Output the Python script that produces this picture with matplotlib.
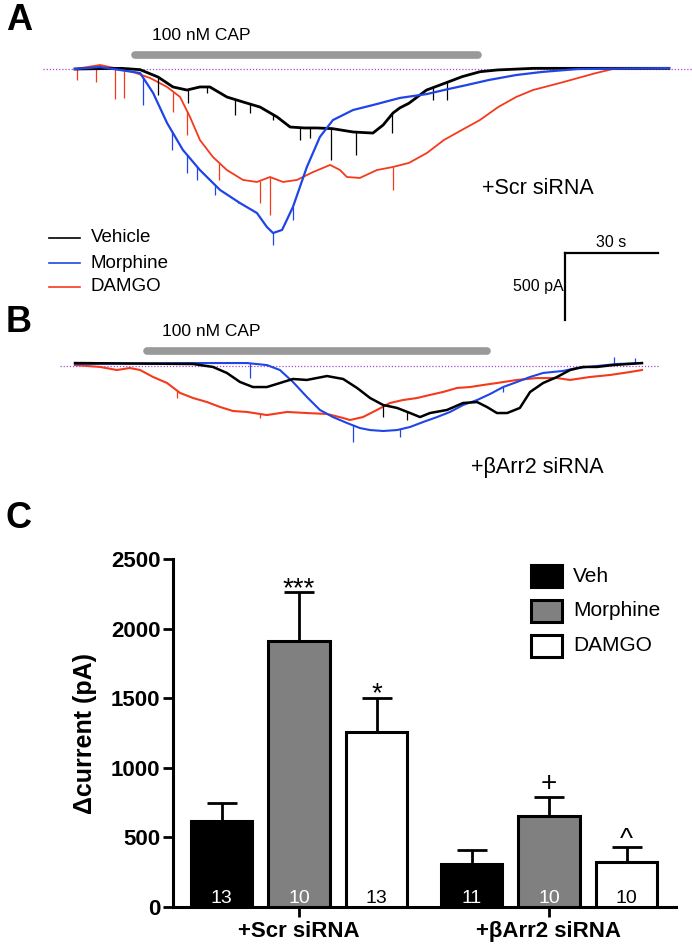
import numpy as np
import matplotlib.pyplot as plt
from matplotlib.lines import Line2D
from matplotlib.patches import Rectangle

plt.rcParams['font.family'] = ['Liberation Sans', 'DejaVu Sans']

W, H = 692, 950

# ---------------- panel A traces (+Scr siRNA): time (s), current (pA)
a_veh_t = [0, 15, 21, 26.8, 31.6, 36.1, 40.3, 43.5, 49.0, 54.2, 59.7, 65.2, 69.4, 74, 78.0,
           83, 89.7, 96.1, 99.4, 102.6, 104.8, 107.7, 113.4, 119.2, 124.9, 130.7, 136.4,
           147.9, 162.2, 191.6]
a_veh_i = [0, 5, -5, -60, -134, -157, -134, -134, -209, -246, -284, -358, -433, -440, -440,
           -445, -470, -478, -418, -328, -290, -256, -157, -107, -57, -20, -7, 5, 5, 5]
a_mor_t = [0, 8.1, 21.0, 25.2, 29.7, 34.8, 40.3, 46.8, 53.2, 58.7, 61.9, 63.9, 66.8, 70.3,
           74.8, 79.0, 83.2, 89.7, 96.1, 104.8, 113.5, 119.0, 126.5, 133.5, 142.3, 150.6,
           162.3, 191.6]
a_mor_i = [0, 15, -30, -179, -403, -604, -754, -903, -1000, -1075, -1179, -1224, -1201,
           -1030, -731, -507, -381, -306, -269, -216, -187, -157, -119, -82, -45, -22, 0, 7]
a_dam_t = [0, 8.1, 18.7, 24.2, 29.7, 33.9, 37.1, 40.3, 44.5, 49.0, 54.2, 58.7, 62.9, 67.1,
           71.6, 76.8, 82.3, 85.5, 87.7, 91.9, 97.4, 102.6, 107.7, 113.5, 119.0, 124.8,
           130.6, 136.5, 142.3, 147.7, 156.5, 162.3, 168.1, 173.5, 191.6]
a_dam_i = [0, 30, -22, -67, -134, -209, -358, -530, -657, -754, -828, -843, -806, -843,
           -828, -769, -716, -754, -806, -813, -754, -731, -701, -627, -530, -455, -381,
           -284, -209, -157, -104, -67, -30, 0, 7]

# downward spikes: time (s), tip current (pA)
a_veh_spk_t = [26.8, 36.5, 42.6, 51.6, 56.5, 63.9, 72.6, 75.8, 82.6, 90.6, 102.3, 115.5, 120.0]
a_veh_spk_i = [-194, -254, -179, -343, -328, -381, -530, -515, -679, -642, -478, -231, -231]
a_mor_spk_t = [21.9, 31.3, 36.1, 39.4, 45.2, 52.6, 63.9, 70.3]
a_mor_spk_i = [-269, -604, -776, -828, -940, -1000, -1313, -1127]
a_dam_spk_t = [0.6, 6.8, 12.9, 15.8, 31.6, 36.1, 46.5, 59.7, 62.9, 102.6]
a_dam_spk_i = [-82, -97, -224, -216, -321, -493, -828, -1000, -1090, -903]

# ---------------- panel B traces (+βArr2 siRNA)
b_veh_t = [0, 38.1, 44.5, 49.0, 53.2, 57.4, 61.9, 66.1, 70.3, 74.8, 81.3, 86.5, 91.0, 95.2,
           99.4, 103.9, 108.1, 111.3, 114.5, 120.0, 125.2, 129.7, 132.9, 136.1, 139.4,
           143.5, 146.8, 151.0, 155.5, 159.7, 163.9, 168.4, 173.5, 182.9]
b_veh_i = [22, 15, -7, -52, -119, -157, -157, -127, -97, -104, -75, -97, -164, -239, -291,
           -313, -351, -381, -351, -328, -276, -269, -306, -351, -351, -313, -194, -127,
           -82, -30, -7, -7, 7, 22]
b_mor_t = [0, 38.1, 49.0, 55.5, 61.9, 66.1, 70.3, 74.8, 79.0, 83.2, 87.7, 91.9, 95.2, 99.4,
           103.9, 108.1, 112.3, 116.8, 121.0, 125.2, 129.7, 133.9, 138.1, 142.6, 146.8,
           151.0, 157.4, 161.9, 168.4, 174.8, 182.9]
b_mor_i = [15, 22, 22, 22, 7, -30, -119, -231, -328, -381, -425, -463, -478, -485, -478,
           -455, -418, -381, -343, -291, -254, -209, -157, -119, -82, -52, -37, -15, 0, 15, 22]
b_dam_t = [0, 8.1, 13.5, 17.7, 21.0, 25.2, 29.7, 33.9, 38.1, 42.6, 46.8, 51.0, 55.5, 61.9,
           68.4, 74.8, 81.3, 86.5, 88.7, 92.9, 97.4, 101.6, 105.8, 110.3, 114.5, 118.7,
           123.2, 127.4, 131.6, 136.1, 142.6, 149.0, 155.5, 159.7, 166.1, 172.6, 179.0, 182.9]
b_dam_i = [7, -7, -30, -15, -30, -82, -127, -201, -239, -269, -306, -336, -343, -366, -343,
           -351, -358, -388, -403, -381, -328, -276, -254, -239, -216, -194, -164, -157,
           -142, -127, -104, -90, -90, -104, -82, -67, -45, -30]

b_veh_spk_t = [99.4, 107.1]
b_veh_spk_i = [-381, -403]
b_mor_spk_t = [56.5, 89.7, 104.8, 138.1, 174.0, 180.6]
b_mor_spk_i = [-90, -567, -530, -194, 67, 60]
b_dam_spk_t = [33.0, 59.7]
b_dam_spk_i = [-239, -388]

cap_a = [19.4, 130.0]
cap_b = [23.2, 132.9]

# ---------------- panel C
groups = ['+Scr siRNA', '+βArr2 siRNA']
treatments = ['Veh', 'Morphine', 'DAMGO']
scr_mean = [618, 1911, 1257]
scr_sem = [129, 352, 244]
arr_mean = [309, 654, 323]
arr_sem = [100, 136, 108]
scr_n = [13, 10, 13]
arr_n = [11, 10, 10]
scr_marks = ['', '***', '*']
arr_marks = ['', '+', '^']

# pixel helpers for layout
PX_S = 3.1      # px per second
PX_PA = 0.134   # px per pA
T0 = 75         # px where traces start


def fx(x):
    return x / W


def fy(y):
    return 1 - y / H


def add_ax(x0, y0, x1, y1):
    return fig.add_axes([fx(x0), fy(y1), (x1 - x0) / W, (y1 - y0) / H])


def t_of(x):
    return (x - T0) / PX_S


def i_of(y, base):
    return -(y - base) / PX_PA


fig = plt.figure(figsize=(W / 100, H / 100), dpi=100)

col_veh, col_mor, col_dam = 'black', '#1f45e6', '#f53a1c'


def draw_traces(ax, traces, cap, cap_i, dot_range):
    ax.hlines(0, dot_range[0], dot_range[1], colors='#a64ac9', linestyles=(0, (1, 1.5)), lw=0.9)
    ax.plot(cap, [cap_i, cap_i], color='#999999', lw=5.5, solid_capstyle='round')
    for t, i, st, si, c, lw in traces:
        ax.plot(t, i, color=c, lw=lw)
        ax.vlines(st, np.interp(st, t, i), si, colors=c, lw=0.9)
    ax.axis('off')


# ---- panel A
axA = add_ax(0, 0, W, 330)
axA.set_xlim(t_of(0), t_of(W))
axA.set_ylim(i_of(330, 69), i_of(0, 69))
draw_traces(axA, [
    (a_dam_t, a_dam_i, a_dam_spk_t, a_dam_spk_i, col_dam, 1.3),
    (a_veh_t, a_veh_i, a_veh_spk_t, a_veh_spk_i, col_veh, 2.0),
    (a_mor_t, a_mor_i, a_mor_spk_t, a_mor_spk_i, col_mor, 1.6),
], cap_a, i_of(55, 69), (t_of(43), t_of(W)))

# scale bar
sb_t, sb_i = t_of(565), i_of(253, 69)
axA.plot([sb_t, sb_t + 30], [sb_i, sb_i], color='black', lw=1.6)
axA.plot([sb_t, sb_t], [sb_i, sb_i - 500], color='black', lw=1.6)
axA.text(sb_t + 15, sb_i + 25, '30 s', ha='center', va='bottom', fontsize=11.5)
axA.text(sb_t - 0.3, sb_i - 250, '500 pA', ha='right', va='center', fontsize=11.5)

# ---- panel B
axB = add_ax(0, 330, W, 500)
axB.set_xlim(t_of(0), t_of(W))
axB.set_ylim(i_of(500, 366), i_of(330, 366))
draw_traces(axB, [
    (b_dam_t, b_dam_i, b_dam_spk_t, b_dam_spk_i, col_dam, 1.5),
    (b_mor_t, b_mor_i, b_mor_spk_t, b_mor_spk_i, col_mor, 1.5),
    (b_veh_t, b_veh_i, b_veh_spk_t, b_veh_spk_i, col_veh, 1.8),
], cap_b, i_of(351, 366), (t_of(60), t_of(660)))

# texts of A and B
fig.text(fx(6), fy(21), 'A', fontsize=26, fontweight='bold', va='center')
fig.text(fx(6), fy(322), 'B', fontsize=26, fontweight='bold', va='center')
fig.text(fx(6), fy(519), 'C', fontsize=26, fontweight='bold', va='center')
fig.text(fx(152), fy(35), '100 nM CAP', fontsize=12.5, va='center')
fig.text(fx(162), fy(331), '100 nM CAP', fontsize=12.5, va='center')
fig.text(fx(482), fy(188), '+Scr siRNA', fontsize=15.5, va='center')
fig.text(fx(471), fy(468), '+βArr2 siRNA', fontsize=15.5, va='center')

for yy, lab, c in [(238, 'Vehicle', col_veh), (263, 'Morphine', col_mor), (287, 'DAMGO', col_dam)]:
    fig.add_artist(Line2D([fx(49), fx(80)], [fy(yy), fy(yy)], color=c, lw=1.2))
    fig.text(fx(91), fy(yy), lab, fontsize=13.5, va='center')

# ---- panel C
axC = add_ax(173, 559, 676, 907)
unit = 77.5
x_scr = np.arange(3)
x_arr = np.arange(3) + (471.5 - 221.5) / unit
xs = np.concatenate([x_scr, x_arr])
means = scr_mean + arr_mean
sems = scr_sem + arr_sem
ns = scr_n + arr_n
marks = scr_marks + arr_marks
fills = ['black', '#808080', 'white'] * 2
ncols = ['white', 'white', 'black'] * 2

axC.errorbar(xs, means, yerr=[np.zeros(6), sems], fmt='none', ecolor='black',
             elinewidth=2, capsize=11, capthick=2, zorder=2)
axC.bar(xs, means, width=0.79, color=fills, edgecolor='black', linewidth=2.2, zorder=3)

for x, m, s, n, mk, nc in zip(xs, means, sems, ns, marks, ncols):
    axC.text(x, 30, str(n), ha='center', va='baseline', color=nc, fontsize=14, zorder=4)
    if mk:
        off = {'***': -30, '*': -20, '+': 45, '^': 0}[mk]
        axC.text(x, m + s + off, mk, ha='center', va='baseline', fontsize=20, zorder=4)

axC.set_xlim((173 - 221.5) / unit, (676 - 221.5) / unit)
axC.set_ylim(0, 2500)
axC.set_yticks(np.arange(0, 2501, 500))
axC.set_xticks([x_scr[1], x_arr[1]])
axC.set_xticklabels(groups)
for sp in ['top', 'right']:
    axC.spines[sp].set_visible(False)
for sp in ['left', 'bottom']:
    axC.spines[sp].set_linewidth(2.2)
axC.tick_params(axis='both', length=7, width=2, labelsize=16)
axC.tick_params(axis='y', pad=2)
axC.tick_params(axis='x', pad=3)
for lab in axC.get_xticklabels() + axC.get_yticklabels():
    lab.set_fontweight('bold')
axC.set_ylabel('Δcurrent (pA)', fontsize=18, fontweight='bold', labelpad=10)

for yy, lab, c in zip([576, 611, 645.5], treatments, ['black', '#808080', 'white']):
    fig.add_artist(Rectangle((fx(531), fy(yy + 11)), 31 / W, 22 / H, transform=fig.transFigure,
                             facecolor=c, edgecolor='black', linewidth=2.2))
    fig.text(fx(573), fy(yy), lab, fontsize=15, va='center')

fig.savefig('out.png', dpi=100)
